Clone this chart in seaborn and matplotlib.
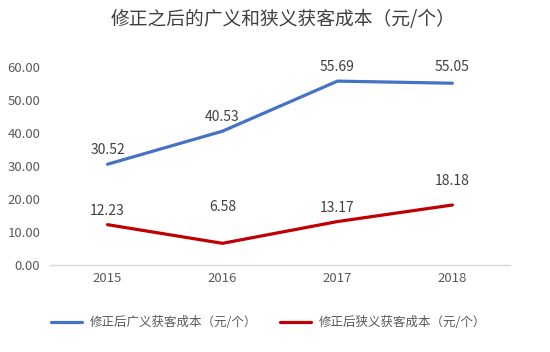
import pandas as pd
import matplotlib.pyplot as plt
import seaborn as sns
from matplotlib.ticker import FormatStrFormatter

years = ['2015', '2016', '2017', '2018']
broad_cost = [30.52, 40.53, 55.69, 55.05]
narrow_cost = [12.23, 6.58, 13.17, 18.18]
broad_name = '修正后广义获客成本（元/个）'
narrow_name = '修正后狭义获客成本（元/个）'
title = '修正之后的广义和狭义获客成本（元/个）'

# label offsets (points above the marker)
broad_offsets = [5, 5, 5, 7]
narrow_offsets = [5, 21, 5, 12]

df = pd.DataFrame({
    'year': years * 2,
    'cost': broad_cost + narrow_cost,
    'series': [broad_name] * 4 + [narrow_name] * 4,
})

sns.set_style('white')
plt.rcParams['font.family'] = ['Noto Sans CJK SC', 'DejaVu Sans']

fig = plt.figure(figsize=(5.5, 3.52), dpi=100)
ax = fig.add_axes([0.091, 0.247, 0.836, 0.563])

palette = {broad_name: '#4472C4', narrow_name: '#C00000'}
sns.lineplot(data=df, x='year', y='cost', hue='series', palette=palette,
             linewidth=2.3, sort=False, ax=ax)

for i, v in enumerate(broad_cost):
    ax.annotate(f'{v:.2f}', (i, v), xytext=(0, broad_offsets[i]),
                textcoords='offset points', ha='center', va='bottom',
                fontsize=10, color='#404040')
for i, v in enumerate(narrow_cost):
    ax.annotate(f'{v:.2f}', (i, v), xytext=(0, narrow_offsets[i]),
                textcoords='offset points', ha='center', va='bottom',
                fontsize=10, color='#404040')

ax.set_xlim(-0.5, 3.5)
ax.set_ylim(0, 60)
ax.set_yticks([0, 10, 20, 30, 40, 50, 60])
ax.yaxis.set_major_formatter(FormatStrFormatter('%.2f'))
ax.tick_params(axis='both', labelsize=9.5, colors='#595959', length=0)
ax.tick_params(axis='y', pad=7)
ax.tick_params(axis='x', pad=5)
ax.set_xlabel('')
ax.set_ylabel('')
for side in ['top', 'right', 'left']:
    ax.spines[side].set_visible(False)
ax.spines['bottom'].set_color('#D9D9D9')
ax.spines['bottom'].set_linewidth(1)

fig.text(0.515, 0.945, title, ha='center', va='center', fontsize=13.5, color='#404040')

ax.legend(loc='upper center', bbox_to_anchor=(0.475, -0.2), ncol=2, frameon=False,
          fontsize=9, handlelength=2.5, handletextpad=0.6, columnspacing=1.8,
          labelcolor='#595959')

plt.savefig('out.png', dpi=100)
